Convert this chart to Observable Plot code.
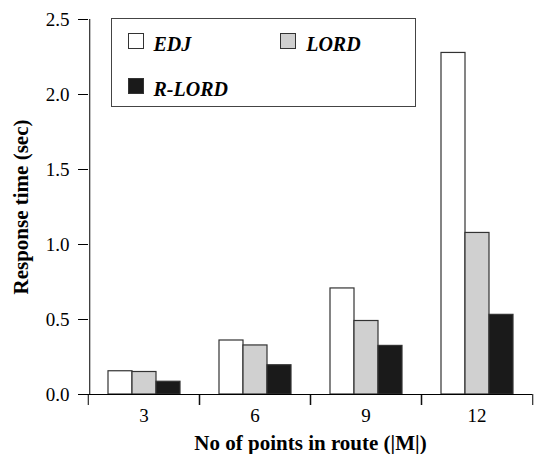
<!DOCTYPE html>
<html><head><meta charset="utf-8">
<script src="https://cdn.jsdelivr.net/npm/d3@7"></script>
<script src="https://cdn.jsdelivr.net/npm/@observablehq/plot@0.6"></script>
<style>
body{margin:0;background:#fff}
#wrap{position:relative;width:534px;height:454px;font-family:"Liberation Serif","Times New Roman",serif}
#wrap svg [aria-label="y-axis label"], #wrap svg [aria-label="fx-axis label"]{font-weight:bold;font-size:21px}
#legend{position:absolute;left:111px;top:18px;width:303px;height:87px;border:1.5px solid #444;background:#fff}
#legend .item{position:absolute;width:150px;height:20px}
#legend .sw{position:absolute;left:0;top:0;width:14px;height:14px;border:1px solid #333}
#legend .lb{position:absolute;left:26px;top:1px;font:bold italic 20px/20px "Liberation Serif","Times New Roman",serif;white-space:nowrap;color:#000}
</style></head><body><div id="wrap"></div><script>
const groups = ["3", "6", "9", "12"];
const series = ["EDJ", "LORD", "R-LORD"];
const EDJ = [0.155, 0.36, 0.707, 2.277];
const LORD = [0.15, 0.327, 0.49, 1.077];
const RLORD = [0.085, 0.195, 0.324, 0.531];
const yTicks = [0, 0.5, 1.0, 1.5, 2.0, 2.5];
const colors = ["#ffffff", "#d0d0d0", "#1a1a1a"];

const values = [EDJ, LORD, RLORD];
const data = groups.flatMap((g, i) => series.map((s, j) => ({group: g, series: s, value: values[j][i]})));

const W = 534, H = 454, ML = 87, MR = 1, MT = 19, MB = 60;
const PO = 0.73;
const step = (W - ML - MR) / groups.length;
const barStep = step / (series.length + 2 * PO);

const plot = Plot.plot({
  width: W, height: H,
  marginLeft: ML, marginRight: MR, marginTop: MT, marginBottom: MB,
  style: {fontFamily: "'Liberation Serif', 'Times New Roman', serif", fontSize: "19px", color: "#000", background: "transparent", overflow: "visible"},
  fx: {domain: groups, padding: 0},
  x: {domain: series, paddingInner: 0, paddingOuter: PO, axis: null},
  y: {domain: [0, 2.5]},
  color: {domain: series, range: colors},
  marks: [
    Plot.barY(data, {fx: "group", x: "series", y: "value", fill: "series", stroke: "#333", strokeWidth: 1.2}),
    Plot.ruleY([0], {stroke: "#000"}),
    Plot.ruleX([groups[0]], {fx: d => d, x: () => series[0], y1: 0, y2: 2.5, stroke: "#000", dx: -(PO + 0.5) * barStep}),
    Plot.axisY(yTicks, {tickSize: 10, tickPadding: 9, tickFormat: d3.format(".1f"),
      label: "Response time (sec)", labelAnchor: "center", labelArrow: "none", labelOffset: 75}),
    Plot.axisFx({anchor: "bottom", tickSize: 0, tickPadding: 13.5, label: "No of points in route (|M|)", labelAnchor: "center", labelOffset: 55}),
    Plot.axisFx({anchor: "bottom", tickSize: 11, tickFormat: () => "", label: null, dx: -step / 2}),
    Plot.axisFx([groups[groups.length - 1]], {anchor: "bottom", tickSize: 11, tickFormat: () => "", label: null, dx: step / 2})
  ]
});
const wrap = document.getElementById("wrap");
wrap.appendChild(plot);

// legend built from the plot's color scale
const cs = plot.scale("color");
const legend = d3.select(wrap).append("div").attr("id", "legend");
const pos = [[15.5, 13.8], [168.2, 13.8], [15.5, 58.8]];
cs.domain.forEach((s, i) => {
  const it = legend.append("div").attr("class", "item")
    .style("left", pos[i][0] + "px").style("top", pos[i][1] + "px");
  it.append("div").attr("class", "sw").style("background", cs.range[i]);
  it.append("div").attr("class", "lb").text(s);
});
</script></body></html>
